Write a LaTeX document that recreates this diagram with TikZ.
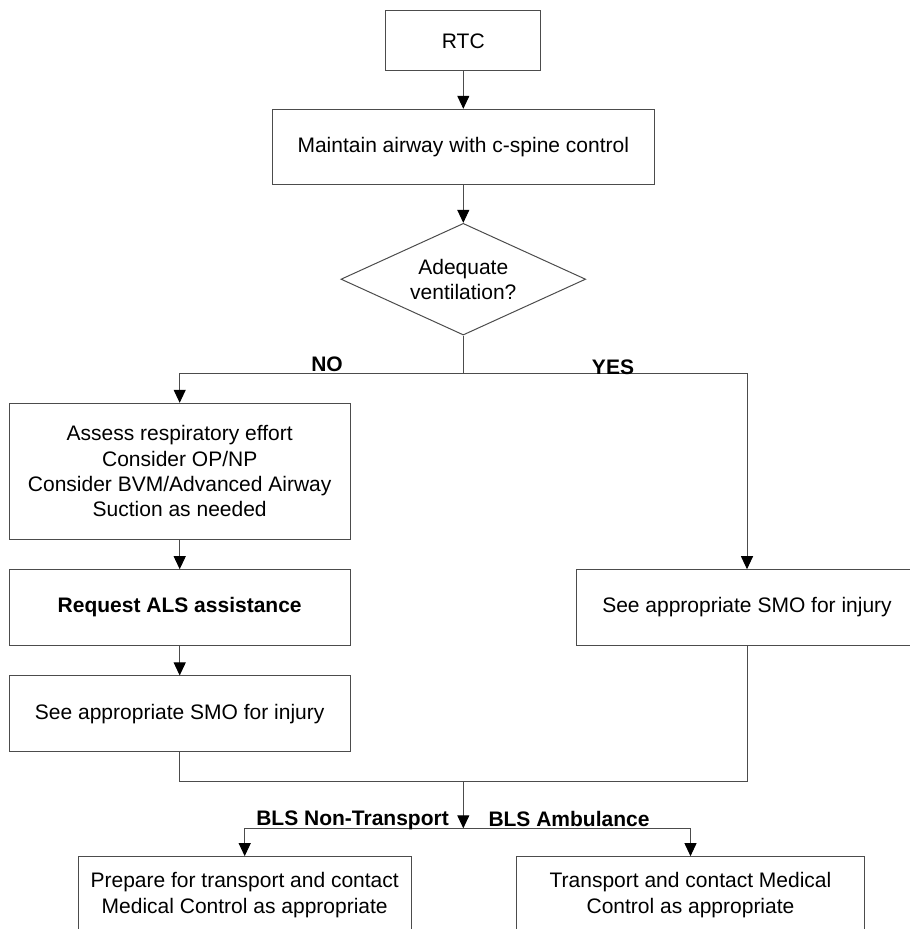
\documentclass[tikz,border=0pt]{standalone}
\usepackage{fontspec}
\setmainfont{Liberation Sans}
\usetikzlibrary{arrows.meta,shapes.geometric}
\begin{document}
\begin{tikzpicture}[x=1pt,y=-1pt,
  every node/.style={font=\fontsize{21}{25.3}\selectfont},
  box/.style={draw=black!70, line width=1pt, rectangle, inner sep=0pt, align=center},
  dec/.style={draw=black!70, line width=1pt, diamond, aspect=2.2, inner sep=0pt, align=center},
  conn/.style={draw=black!70, line width=1pt},
  arr/.style={conn, -{Triangle[width=12pt,length=13pt,color=black]}},
  lbl/.style={inner sep=0pt, font=\fontsize{21}{25}\selectfont\bfseries}]
\path[use as bounding box] (0,0) rectangle (910,929);
\clip (0,0) rectangle (910,929);

% boxes
\node[box, minimum width=155.3, minimum height=60.3] (rtc) at (463.3,40.8) {RTC};
\node[box, minimum width=381.7, minimum height=75] (mt) at (463.3,146.8) {Maintain airway with c-spine control};
\node[dec, minimum width=244.7, minimum height=111.7] (dia) at (463.3,279.2) {Adequate\\ventilation?};
\node[box, minimum width=340.7, minimum height=136] (b1) at (179.7,471.3)
  {Assess respiratory effort\\Consider OP/NP\\Consider BVM/Advanced Airway\\Suction as needed};
\node[box, minimum width=340.7, minimum height=75.6] (b2) at (179.7,607.5) {\bfseries Request ALS assistance};
\node[box, minimum width=340.7, minimum height=75.7] (b3) at (179.7,713.8) {See appropriate SMO for injury};
\node[box, minimum width=340.6, minimum height=75.6] (rb) at (747,607.5) {See appropriate SMO for injury};
\node[box, minimum width=332.7, minimum height=76.3, font=\fontsize{21}{25.7}\selectfont] (bl) at (244.7,894.8)
  {Prepare for transport and contact\\Medical Control as appropriate};
\node[box, minimum width=347.6, minimum height=76.3, font=\fontsize{21}{25.7}\selectfont] (br) at (690.5,894.8)
  {Transport and contact Medical\\Control as appropriate};

% junctions
\coordinate (j1) at (463.3,373.3);
\coordinate (j2) at (463.3,781);
\coordinate (j3) at (463.3,828.3);

% connectors
\draw[arr] (rtc.south) -- (mt.north);
\draw[arr] (mt.south) -- (dia.north);
\draw[conn] (dia.south) -- (j1);
\draw[arr] (j1) -| (b1.north);
\draw[arr] (j1) -| (rb.north);
\draw[arr] (b1.south) -- (b2.north);
\draw[arr] (b2.south) -- (b3.north);
\draw[conn] (b3.south) |- (j2) -| (rb.south);
\draw[arr] (j2) -- (j3);
\draw[arr] (j3) -| (bl.north);
\draw[arr] (j3) -| (br.north);

% labels
\node[lbl, anchor=base] (no) at (327,371.7) {NO};
\node[lbl, anchor=base] (yes) at (613,374) {YES};
\node[lbl, anchor=base east] (nt) at (449,825) {BLS Non-Transport};
\node[lbl, anchor=base west] (amb) at (488.3,826) {BLS Ambulance};
\end{tikzpicture}
\end{document}
